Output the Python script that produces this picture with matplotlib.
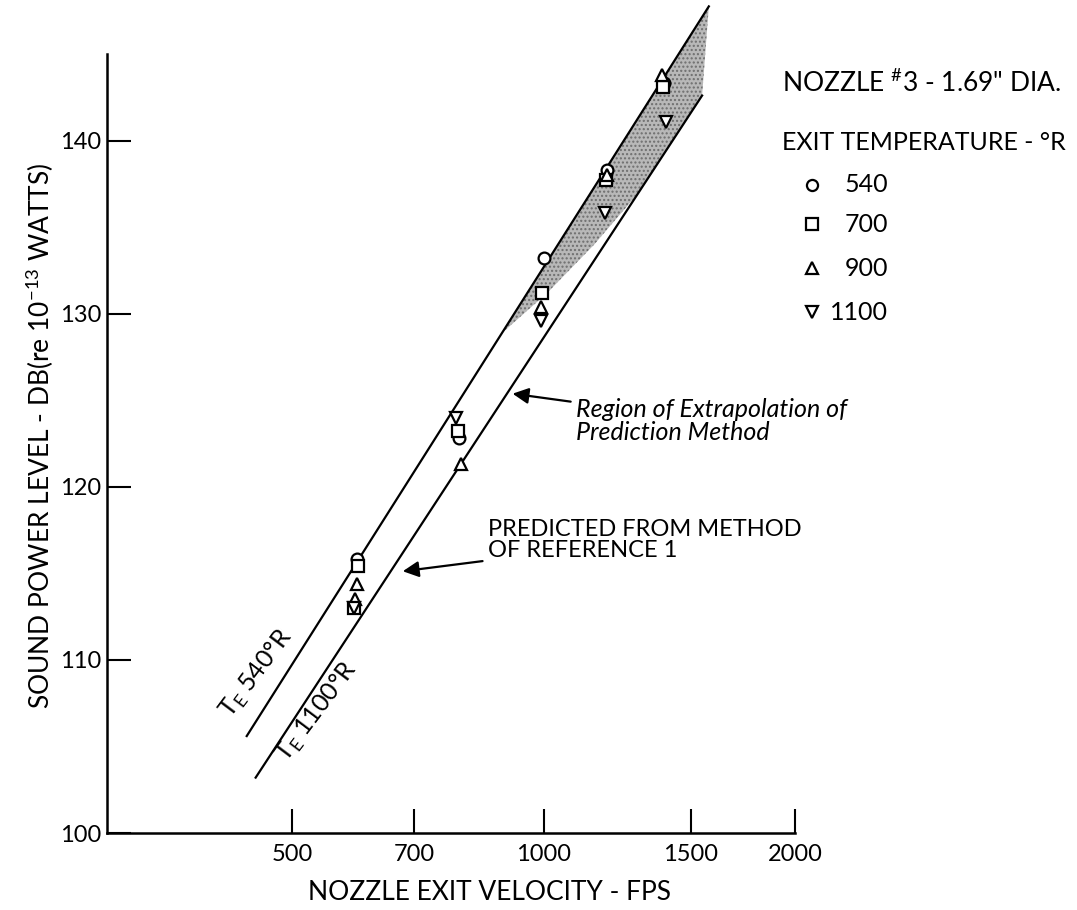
import numpy as np
import matplotlib.pyplot as plt
from matplotlib.lines import Line2D

plt.rcParams['font.family'] = ['Lato', 'DejaVu Sans']
plt.rcParams['mathtext.fontset'] = 'custom'
plt.rcParams['mathtext.rm'] = 'Lato'
plt.rcParams['hatch.color'] = '#6e6e6e'

# measured sound power level (dB) vs nozzle exit velocity (fps), by exit temperature
v_540 = [598, 792, 1000, 1190, 1392]
db_540 = [115.8, 122.8, 133.2, 138.3, 143.3]
v_700 = [600, 592, 790, 995, 1188, 1390]
db_700 = [115.4, 113.0, 123.2, 131.2, 137.7, 143.1]
v_900 = [598, 595, 797, 993, 1190, 1385]
db_900 = [114.4, 113.5, 121.3, 130.4, 138.0, 143.8]
v_1100 = [592, 786, 993, 1184, 1400]
db_1100 = [113.0, 124.0, 129.6, 135.8, 141.1]

# predicted lines (method of reference 1)
line540_v = [441, 1577]
line540_db = [105.6, 147.75]
line1100_v = [452, 1548]
line1100_db = [103.2, 142.6]

# lower edge of the shaded extrapolation region
shade_lo_v = [890, 1010, 1150, 1300, 1548]
shade_lo_db = [128.85, 131.2, 134.0, 137.0, 142.6]

xticks = [500, 700, 1000, 1500, 2000]
yticks = [100, 110, 120, 130, 140]

W, H = 1077, 910
fig = plt.figure(figsize=(W / 100, H / 100), dpi=100)
ax = fig.add_axes([107 / W, 1 - 833 / H, (795 - 107) / W, (833 - 54) / H])

ax.set_xscale('log')
ax.set_xlim(300, 2000)
ax.set_ylim(100, 145)

# shaded region: upper edge on the 540 line
up0 = np.interp(np.log10(shade_lo_v[0]), np.log10(line540_v), line540_db)
sx = [shade_lo_v[0], line540_v[1]] + shade_lo_v[::-1]
sy = [up0, line540_db[1]] + shade_lo_db[::-1]
ax.fill(sx, sy, facecolor='#b8b8b8', lw=0, hatch='....', clip_on=False, zorder=1)

ax.plot(line540_v, line540_db, color='black', lw=1.6, clip_on=False, zorder=2)
ax.plot(line1100_v, line1100_db, color='black', lw=1.6, clip_on=False, zorder=2)

mk = dict(ls='none', mfc='white', mec='black', mew=1.6, ms=8.5, zorder=3, clip_on=False)
ax.plot(v_540, db_540, marker='o', **mk)
ax.plot(v_700, db_700, marker='s', **mk)
ax.plot(v_900, db_900, marker='^', **mk)
ax.plot(v_1100, db_1100, marker='v', **mk)

ax.spines['top'].set_visible(False)
ax.spines['right'].set_visible(False)
ax.spines['left'].set_linewidth(1.8)
ax.spines['bottom'].set_linewidth(1.8)

ax.set_xticks(xticks)
ax.set_xticklabels([str(t) for t in xticks])
ax.xaxis.set_minor_locator(plt.NullLocator())
ax.set_yticks(yticks)
ax.set_yticklabels([str(t) for t in yticks])
ax.tick_params(direction='in', length=17, width=1.5, labelsize=17)
ax.tick_params(axis='x', pad=8)
ax.tick_params(axis='y', pad=4)

fig.text(490 / W, 1 - 893 / H, 'NOZZLE EXIT VELOCITY - FPS', ha='center', va='center', fontsize=19)
fig.text(40 / W, 1 - 436 / H, 'SOUND POWER LEVEL - DB(re 10$^{-13}$ WATTS)',
         rotation=90, ha='center', va='center', fontsize=19)

# line labels
ax.text(453, 109.2, r'T$_{\mathrm{E}}$ 540°R', rotation=53, ha='center', va='center', fontsize=18,
        rotation_mode='anchor')
ax.text(535, 107.0, r'T$_{\mathrm{E}}$ 1100°R', rotation=53, ha='center', va='center', fontsize=18,
        rotation_mode='anchor')

ax.annotate('Region of Extrapolation of\nPrediction Method', xy=(911, 125.4), xytext=(1094, 123.8),
            ha='left', va='center', fontsize=18, style='italic', linespacing=1.0,
            arrowprops=dict(arrowstyle='-|>', color='black', lw=1.6, mutation_scale=24))
ax.annotate('PREDICTED FROM METHOD\nOF REFERENCE 1', xy=(673, 115.1), xytext=(858, 116.9),
            ha='left', va='center', fontsize=17, linespacing=1.0,
            arrowprops=dict(arrowstyle='-|>', color='black', lw=1.6, mutation_scale=24))

# legend block
fig.text(1062 / W, 1 - 83 / H, 'NOZZLE $^{\\#}$3 - 1.69" DIA.', ha='right', va='center', fontsize=19)
fig.text(1066 / W, 1 - 142 / H, 'EXIT TEMPERATURE - °R', ha='right', va='center', fontsize=18)
leg_markers = ['o', 's', '^', 'v']
leg_labels = ['540', '700', '900', '1100']
leg_y = [185, 224, 268, 312]
for m, lab, y in zip(leg_markers, leg_labels, leg_y):
    fig.add_artist(Line2D([812 / W], [1 - y / H], marker=m, ls='none', mfc='white',
                          mec='black', mew=1.6, ms=8, transform=fig.transFigure))
    fig.text(888 / W, 1 - y / H, lab, ha='right', va='center', fontsize=18)

fig.savefig('out.png', dpi=100)
